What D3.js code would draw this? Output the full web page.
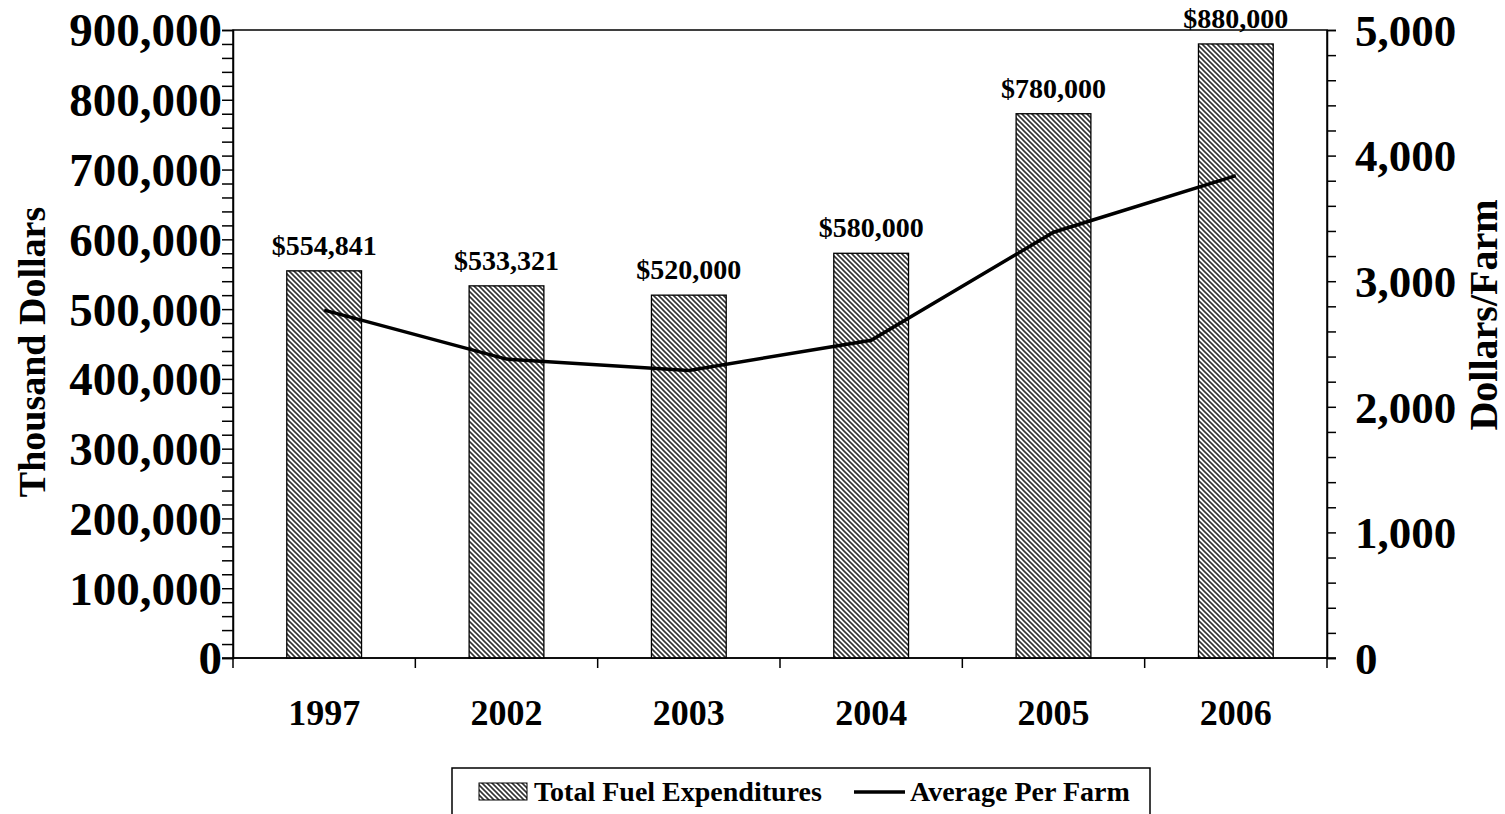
<!DOCTYPE html>
<html>
<head>
<meta charset="utf-8">
<script src="https://cdn.jsdelivr.net/npm/d3@7"></script>
<style>
  html, body { margin: 0; padding: 0; background: #fff; }
  svg { display: block; font-family: "Liberation Serif", "Times New Roman", serif; font-weight: bold; }
</style>
</head>
<body>
<div id="chart"></div>
<script>
// chart data
const years = ['1997', '2002', '2003', '2004', '2005', '2006'];
const totalFuel = [554841, 533321, 520000, 580000, 780000, 880000];
const totalLabels = ['$554,841', '$533,321', '$520,000', '$580,000', '$780,000', '$880,000'];
const perFarm = [2770, 2380, 2290, 2530, 3390, 3840];
const leftTicks = [0, 100000, 200000, 300000, 400000, 500000, 600000, 700000, 800000, 900000];
const rightTicks = [0, 1000, 2000, 3000, 4000, 5000];

const W = 1505, H = 814;
const margin = { top: 30, right: 178, bottom: 156, left: 233 };
const width = W - margin.left - margin.right;
const height = H - margin.top - margin.bottom;

const svg = d3.select('#chart').append('svg')
  .attr('width', W)
  .attr('height', H);

const defs = svg.append('defs');
const hatch = defs.append('pattern')
  .attr('id', 'hatch')
  .attr('patternUnits', 'userSpaceOnUse')
  .attr('width', 5)
  .attr('height', 5);
hatch.append('rect').attr('width', 5).attr('height', 5).attr('fill', '#fff');
hatch.append('path')
  .attr('d', 'M-1,-1 L6,6 M-1,4 L1,6 M4,-1 L6,1')
  .attr('stroke', '#333')
  .attr('stroke-width', 1.6);

const g = svg.append('g').attr('transform', `translate(${margin.left},${margin.top})`);

const x = d3.scaleBand().domain(years).range([0, width]).padding(0);
const yL = d3.scaleLinear().domain([0, 900000]).range([height, 0]);
const yR = d3.scaleLinear().domain([0, 5000]).range([height, 0]);

const barW = x.bandwidth() * 0.41;

// plot frame
g.append('rect')
  .attr('x', 0).attr('y', 0)
  .attr('width', width).attr('height', height)
  .attr('fill', 'none')
  .attr('stroke', '#000')
  .attr('stroke-width', 1.5);

// bars
g.selectAll('.bar')
  .data(totalFuel)
  .enter()
  .append('rect')
  .attr('class', 'bar')
  .attr('x', (d, i) => x(years[i]) + (x.bandwidth() - barW) / 2)
  .attr('y', d => yL(d))
  .attr('width', barW)
  .attr('height', d => height - yL(d))
  .attr('fill', 'url(#hatch)')
  .attr('stroke', '#000')
  .attr('stroke-width', 1.3);

g.selectAll('.bar-label')
  .data(totalFuel)
  .enter()
  .append('text')
  .attr('class', 'bar-label')
  .attr('x', (d, i) => x(years[i]) + x.bandwidth() / 2)
  .attr('y', d => yL(d) - 16)
  .attr('text-anchor', 'middle')
  .attr('font-size', '28px')
  .text((d, i) => totalLabels[i]);

// per farm line
const line = d3.line()
  .x((d, i) => x(years[i]) + x.bandwidth() / 2)
  .y(d => yR(d));

g.append('path')
  .datum(perFarm)
  .attr('d', line)
  .attr('fill', 'none')
  .attr('stroke', '#000')
  .attr('stroke-width', 3.5);

// left axis
const leftAxis = g.append('g')
  .call(d3.axisLeft(yL).tickValues(d3.range(0, 900001, 20000)).tickSize(11).tickFormat(''));
leftAxis.select('.domain').attr('stroke-width', 1.5);
leftAxis.selectAll('line').attr('stroke-width', 1.5);

g.selectAll('.ltick')
  .data(leftTicks)
  .enter()
  .append('text')
  .attr('class', 'ltick')
  .attr('x', -11)
  .attr('y', d => yL(d))
  .attr('dy', '0.35em')
  .attr('text-anchor', 'end')
  .attr('font-size', '47px')
  .text(d => d3.format(',')(d));

// right axis
const rightAxis = g.append('g')
  .attr('transform', `translate(${width},0)`)
  .call(d3.axisRight(yR).tickValues(d3.range(0, 5001, 200)).tickSize(9).tickFormat(''));
rightAxis.select('.domain').attr('stroke-width', 1.5);
rightAxis.selectAll('line').attr('stroke-width', 1.5);

g.selectAll('.rtick')
  .data(rightTicks)
  .enter()
  .append('text')
  .attr('class', 'rtick')
  .attr('x', width + 28)
  .attr('y', d => yR(d))
  .attr('dy', '0.35em')
  .attr('text-anchor', 'start')
  .attr('font-size', '45px')
  .text(d => d3.format(',')(d));

// x axis
g.append('line')
  .attr('x1', -11).attr('x2', width + 9)
  .attr('y1', height).attr('y2', height)
  .attr('stroke', '#000').attr('stroke-width', 1.5);

g.selectAll('.xtick')
  .data(d3.range(years.length + 1))
  .enter()
  .append('line')
  .attr('class', 'xtick')
  .attr('x1', i => i < years.length ? x(years[i]) : width)
  .attr('x2', i => i < years.length ? x(years[i]) : width)
  .attr('y1', height)
  .attr('y2', height + 10)
  .attr('stroke', '#000')
  .attr('stroke-width', 1.5);

g.selectAll('.xlabel')
  .data(years)
  .enter()
  .append('text')
  .attr('class', 'xlabel')
  .attr('x', d => x(d) + x.bandwidth() / 2)
  .attr('y', height + 67)
  .attr('text-anchor', 'middle')
  .attr('font-size', '36px')
  .text(d => d);

// axis titles
svg.append('text')
  .attr('transform', 'translate(45,352) rotate(-90)')
  .attr('text-anchor', 'middle')
  .attr('font-size', '38px')
  .text('Thousand Dollars');

svg.append('text')
  .attr('transform', 'translate(1497,315) rotate(-90)')
  .attr('text-anchor', 'middle')
  .attr('font-size', '40px')
  .text('Dollars/Farm');

// legend
const legend = svg.append('g').attr('transform', 'translate(452,768)');
legend.append('rect')
  .attr('width', 698).attr('height', 60)
  .attr('fill', '#fff')
  .attr('stroke', '#000')
  .attr('stroke-width', 1.5);
legend.append('rect')
  .attr('x', 27).attr('y', 15)
  .attr('width', 48).attr('height', 17)
  .attr('fill', 'url(#hatch)')
  .attr('stroke', '#000')
  .attr('stroke-width', 1);
legend.append('text')
  .attr('x', 82).attr('y', 33)
  .attr('font-size', '28px')
  .text('Total Fuel Expenditures');
legend.append('line')
  .attr('x1', 402).attr('x2', 453)
  .attr('y1', 24).attr('y2', 24)
  .attr('stroke', '#000').attr('stroke-width', 3.5);
legend.append('text')
  .attr('x', 458).attr('y', 33)
  .attr('font-size', '28px')
  .text('Average Per Farm');
</script>
</body>
</html>
